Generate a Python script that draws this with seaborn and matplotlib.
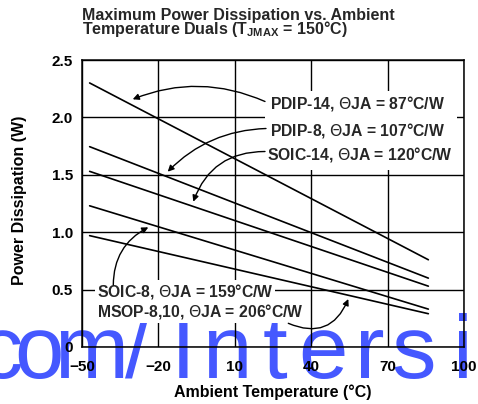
import matplotlib
matplotlib.use("Agg")
import matplotlib.pyplot as plt
from matplotlib.patches import Rectangle
import pandas as pd
import seaborn as sns

# ---- data -------------------------------------------------------------
temperature_c = [-47, 86]
pdip14_w = [2.30, 0.76]
pdip8_w = [1.745, 0.60]
soic14_w = [1.53, 0.53]
soic8_w = [1.23, 0.33]
msop_w = [0.97, 0.29]

package_labels = [
    "PDIP-14, $\\Theta$JA = 87°C/W",
    "PDIP-8, $\\Theta$JA = 107°C/W",
    "SOIC-14, $\\Theta$JA = 120°C/W",
    "SOIC-8, $\\Theta$JA = 159°C/W",
    "MSOP-8,10, $\\Theta$JA = 206°C/W",
]
x_ticks = [-50, -20, 10, 40, 70, 100]
y_ticks = [0, 0.5, 1.0, 1.5, 2.0, 2.5]
y_tick_labels = ["0", "0.5", "1.0", "1.5", "2.0", "2.5"]
watermark_chars = list("com/Intersi")
watermark_centers_px = [0, 39, 91, 137, 183.5, 227, 275, 323, 370, 414, 463]

series = [pdip14_w, pdip8_w, soic14_w, soic8_w, msop_w]
frame = pd.concat(
    [pd.DataFrame({"T": temperature_c, "P": vals, "pkg": name})
     for name, vals in zip(package_labels, series)],
    ignore_index=True,
)

# ---- style ------------------------------------------------------------
sns.set_theme(style="white")
plt.rcParams["font.family"] = ["Liberation Sans", "DejaVu Sans"]
plt.rcParams["mathtext.fontset"] = "dejavusans"

W, H = 478, 404
fig = plt.figure(figsize=(W / 100, H / 100), dpi=100)
fig.patch.set_facecolor("white")

# axes box in pixel terms
ax_l, ax_r, ax_t, ax_b = 82, 464, 60, 347
ax = fig.add_axes([ax_l / W, 1 - ax_b / H, (ax_r - ax_l) / W, (ax_b - ax_t) / H])
ax.set_facecolor("none")
ax.set_zorder(1)

# watermark behind the plot
for ch, cx in zip(watermark_chars, watermark_centers_px):
    fig.text(cx / W, 1 - 378 / H, ch, fontsize=64, family="Liberation Sans",
             color="#4558ff", ha="center", va="baseline", zorder=0)

sns.lineplot(data=frame, x="T", y="P", hue="pkg", palette=["black"] * 5,
             legend=False, ax=ax, lw=1.2, zorder=3)

ax.set_xlim(-50, 100)
ax.set_ylim(0, 2.5)
ax.set_xticks(x_ticks)
ax.set_yticks(y_ticks)
ax.set_yticklabels(y_tick_labels)
ax.tick_params(axis="both", length=0, labelsize=11, labelcolor="black")
ax.tick_params(axis="x", pad=9.5)
ax.tick_params(axis="y", pad=6.5)
for lab in ax.get_xticklabels() + ax.get_yticklabels():
    lab.set_fontweight("bold")
ax.grid(True, color="black", lw=1)
ax.set_axisbelow(True)
for s in ax.spines.values():
    s.set_color("black")
    s.set_linewidth(1.1)
    s.set_zorder(5)

ax.set_xlabel("Ambient Temperature (°C)", fontsize=11.5, fontweight="bold", color="black")
ax.set_ylabel("Power Dissipation (W)", fontsize=11.5, fontweight="bold", color="black")
ax.xaxis.set_label_coords((273 - ax_l) / (ax_r - ax_l), (ax_b - 392) / (ax_b - ax_t))
ax.xaxis.label.set_va("center")
ax.yaxis.set_label_coords((20 - ax_l) / (ax_r - ax_l), (ax_b - 200) / (ax_b - ax_t))
ax.yaxis.label.set_va("center")

# title
fig.text(ax_l / W, 1 - 15.5 / H, "Maximum Power Dissipation vs. Ambient",
         fontsize=11.5, fontweight="bold", ha="left", va="center")
fig.text(ax_l / W, 1 - 29 / H,
         "Temperature Duals (T$_{\\mathregular{JMAX}}$ = 150°C)",
         fontsize=11.5, fontweight="bold", ha="left", va="center")


def px2data(px, py):
    t = -50 + (px - ax_l) / (ax_r - ax_l) * 150
    p = (ax_b - py) / (ax_b - ax_t) * 2.5
    return t, p


# white panel behind the upper labels
ax.add_patch(Rectangle(((265 - ax_l) / (ax_r - ax_l), (ax_b - 170) / (ax_b - ax_t)),
                       (457 - 265) / (ax_r - ax_l), (170 - 91) / (ax_b - ax_t),
                       transform=ax.transAxes, facecolor="white", edgecolor="none",
                       zorder=2))

label_pos_px = [(270, 103.5), (270, 130), (266.5, 155), (96.5, 291.5), (96.5, 311.5)]
for i, (lbl, (px, py)) in enumerate(zip(package_labels, label_pos_px)):
    kw = {}
    if i >= 3:
        kw["bbox"] = dict(facecolor="white", edgecolor="none", pad=1.2)
    ax.text(*px2data(px, py), lbl, fontsize=11.3, fontweight="bold",
            ha="left", va="center", zorder=6, **kw)

# arrows: (start px, tip px, curvature)
arrows = [
    ((265, 101.5), (132.7, 99.3), 0.21),
    ((266, 128.5), (167.7, 171.7), 0.2),
    ((265, 151.5), (193.3, 201.7), 0.35),
    ((113.3, 285), (148.3, 227.3), -0.3),
    ((288.3, 323.3), (348.3, 299), 0.5),
]
for start, tip, rad in arrows:
    ax.annotate("", xy=px2data(*tip), xytext=px2data(*start),
                arrowprops=dict(arrowstyle="-|>", color="black", lw=1,
                                mutation_scale=9, shrinkA=0, shrinkB=0,
                                connectionstyle=f"arc3,rad={rad}"),
                zorder=7)

fig.savefig("out.png", dpi=100)
